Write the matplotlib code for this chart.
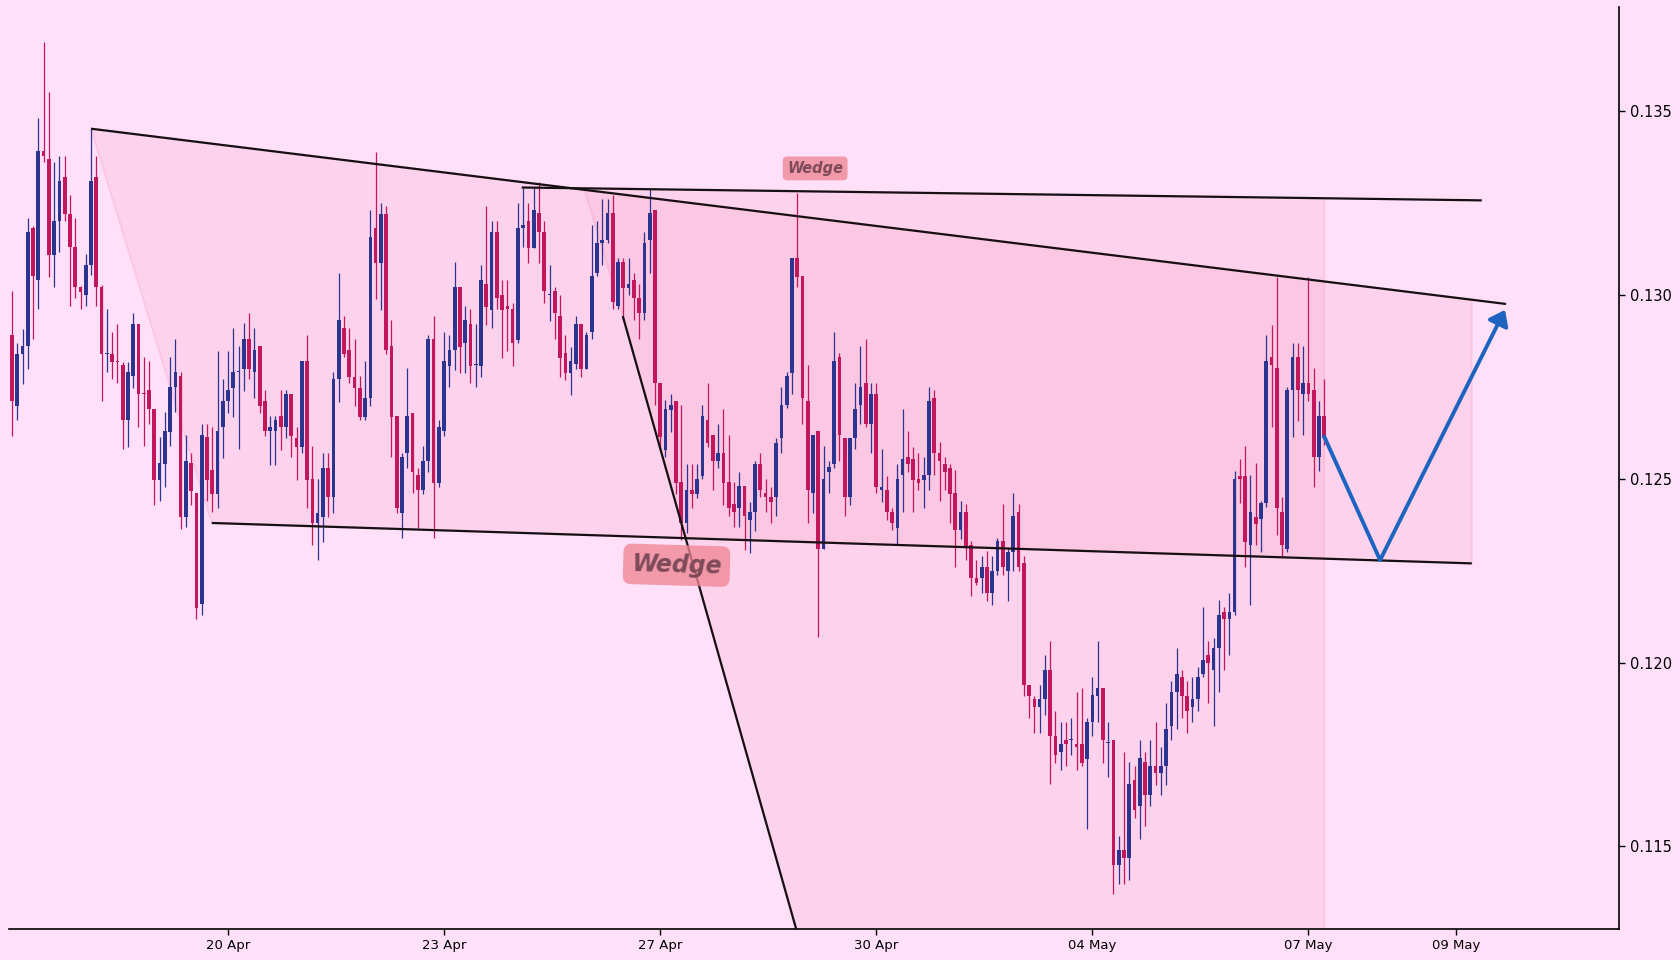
import matplotlib.pyplot as plt
import numpy as np

# OHLC, one candle per slot (x axis is the candle index)
opens = [
    0.12892, 0.12699, 0.12839, 0.12862, 0.13182, 0.13040, 0.13391, 0.13370, 0.13110, 0.13201,
    0.13321, 0.13220, 0.13130, 0.13022, 0.13000, 0.13081, 0.13321, 0.13022, 0.12839, 0.12839,
    0.12821, 0.12811, 0.12659, 0.12779, 0.12922, 0.12732, 0.12743, 0.12689, 0.12498, 0.12540,
    0.12628, 0.12750, 0.12779, 0.12397, 0.12542, 0.12462, 0.12160, 0.12613, 0.12524, 0.12459,
    0.12641, 0.12712, 0.12748, 0.12790, 0.12799, 0.12880, 0.12790, 0.12862, 0.12712, 0.12629,
    0.12629, 0.12671, 0.12640, 0.12731, 0.12610, 0.12588, 0.12822, 0.12499, 0.12379, 0.12397,
    0.12529, 0.12450, 0.12771, 0.12910, 0.12851, 0.12778, 0.12748, 0.12669, 0.12719, 0.13182,
    0.13088, 0.13221, 0.12862, 0.12671, 0.12408, 0.12570, 0.12680, 0.12511, 0.12470, 0.12550,
    0.12880, 0.12490, 0.12629, 0.12808, 0.12851, 0.13023, 0.12869, 0.12922, 0.12810, 0.12808,
    0.13030, 0.12960, 0.13173, 0.13000, 0.12971, 0.12962, 0.12878, 0.13182, 0.13202, 0.13129,
    0.13223, 0.13173, 0.13000, 0.13011, 0.12942, 0.12842, 0.12789, 0.12812, 0.12922, 0.12798,
    0.12899, 0.13059, 0.13141, 0.13150, 0.13223, 0.12971, 0.13091, 0.13020, 0.13041, 0.12991,
    0.12951, 0.13150, 0.13232, 0.12760, 0.12579, 0.12688, 0.12713, 0.12491, 0.12379, 0.12470,
    0.12459, 0.12509, 0.12660, 0.12619, 0.12550, 0.12570, 0.12491, 0.12432, 0.12420, 0.12481,
    0.12388, 0.12409, 0.12541, 0.12461, 0.12450, 0.12450, 0.12610, 0.12701, 0.12789, 0.13100,
    0.13052, 0.12713, 0.12461, 0.12630, 0.12308, 0.12520, 0.12541, 0.12833, 0.12610, 0.12450,
    0.12610, 0.12701, 0.12762, 0.12649, 0.12731, 0.12470, 0.12470, 0.12409, 0.12367, 0.12510,
    0.12560, 0.12553, 0.12500, 0.12498, 0.12510, 0.12721, 0.12570, 0.12541, 0.12530, 0.12462,
    0.12360, 0.12410, 0.12319, 0.12231, 0.12229, 0.12259, 0.12189, 0.12249, 0.12331, 0.12249,
    0.12301, 0.12410, 0.12271, 0.11939, 0.11901, 0.11879, 0.11901, 0.11981, 0.11800, 0.11758,
    0.11790, 0.11788, 0.11778, 0.11778, 0.11738, 0.11838, 0.11909, 0.11931, 0.11780, 0.11789,
    0.11448, 0.11491, 0.11467, 0.11681, 0.11609, 0.11730, 0.11640, 0.11719, 0.11700, 0.11719,
    0.11828, 0.11919, 0.11961, 0.11909, 0.11879, 0.11901, 0.11969, 0.12020, 0.11980, 0.12040,
    0.12139, 0.12119, 0.12139, 0.12508, 0.12508, 0.12320, 0.12395, 0.12392, 0.12433, 0.12832,
    0.12801, 0.12410, 0.12309, 0.12742, 0.12832, 0.12730, 0.12760, 0.12742, 0.12559, 0.12672,
]
highs = [
    0.13010, 0.12870, 0.12909, 0.13211, 0.13188, 0.13482, 0.13690, 0.13552, 0.13362, 0.13380,
    0.13380, 0.13272, 0.13211, 0.13024, 0.13112, 0.13453, 0.13380, 0.13029, 0.12961, 0.12899,
    0.12922, 0.12819, 0.12818, 0.12951, 0.12922, 0.12831, 0.12821, 0.12689, 0.12613, 0.12682,
    0.12831, 0.12880, 0.12790, 0.12620, 0.12571, 0.12462, 0.12649, 0.12649, 0.12641, 0.12849,
    0.12772, 0.12849, 0.12910, 0.12862, 0.12923, 0.12951, 0.12910, 0.12862, 0.12742, 0.12671,
    0.12671, 0.12742, 0.12742, 0.12731, 0.12640, 0.12822, 0.12892, 0.12590, 0.12499, 0.12570,
    0.12570, 0.12790, 0.13059, 0.12942, 0.12910, 0.12880, 0.12780, 0.12822, 0.13232, 0.13390,
    0.13252, 0.13243, 0.12932, 0.12671, 0.12570, 0.12801, 0.12680, 0.12529, 0.12590, 0.12892,
    0.12942, 0.12660, 0.12901, 0.12892, 0.13091, 0.13023, 0.12971, 0.12962, 0.12922, 0.13082,
    0.13243, 0.13202, 0.13202, 0.13041, 0.13041, 0.12980, 0.13250, 0.13291, 0.13250, 0.13291,
    0.13309, 0.13202, 0.13082, 0.13023, 0.13000, 0.12892, 0.12860, 0.12942, 0.12922, 0.12901,
    0.13191, 0.13202, 0.13261, 0.13261, 0.13273, 0.13100, 0.13100, 0.13100, 0.13059, 0.13030,
    0.13173, 0.13291, 0.13232, 0.12760, 0.12715, 0.12731, 0.12713, 0.12701, 0.12541, 0.12541,
    0.12541, 0.12701, 0.12762, 0.12619, 0.12649, 0.12690, 0.12619, 0.12491, 0.12520, 0.12481,
    0.12438, 0.12550, 0.12570, 0.12500, 0.12479, 0.12610, 0.12751, 0.12792, 0.13100, 0.13277,
    0.13052, 0.12810, 0.12619, 0.12630, 0.12590, 0.12550, 0.12901, 0.12842, 0.12610, 0.12610,
    0.12762, 0.12862, 0.12881, 0.12762, 0.12762, 0.12581, 0.12509, 0.12420, 0.12541, 0.12691,
    0.12631, 0.12588, 0.12570, 0.12560, 0.12751, 0.12741, 0.12601, 0.12560, 0.12541, 0.12523,
    0.12440, 0.12432, 0.12331, 0.12279, 0.12291, 0.12303, 0.12291, 0.12340, 0.12432, 0.12311,
    0.12462, 0.12432, 0.12291, 0.11939, 0.11909, 0.11939, 0.12022, 0.12060, 0.11869, 0.11838,
    0.11838, 0.11850, 0.11921, 0.11931, 0.11850, 0.11961, 0.12060, 0.11931, 0.11839, 0.11789,
    0.11527, 0.11758, 0.11730, 0.11719, 0.11789, 0.11758, 0.11789, 0.11839, 0.11769, 0.11890,
    0.11950, 0.12040, 0.11980, 0.11950, 0.11961, 0.11989, 0.12151, 0.12059, 0.12068, 0.12170,
    0.12151, 0.12189, 0.12522, 0.12553, 0.12589, 0.12510, 0.12542, 0.12441, 0.12892, 0.12920,
    0.13050, 0.12452, 0.12751, 0.12869, 0.12869, 0.12861, 0.13050, 0.12801, 0.12713, 0.12773,
]
lows = [
    0.12618, 0.12659, 0.12758, 0.12800, 0.12880, 0.12961, 0.13362, 0.13050, 0.13022, 0.13118,
    0.13201, 0.12970, 0.12993, 0.12961, 0.12970, 0.13055, 0.12970, 0.12712, 0.12790, 0.12771,
    0.12762, 0.12580, 0.12587, 0.12748, 0.12641, 0.12589, 0.12649, 0.12430, 0.12441, 0.12479,
    0.12589, 0.12682, 0.12363, 0.12368, 0.12430, 0.12118, 0.12129, 0.12441, 0.12410, 0.12420,
    0.12557, 0.12680, 0.12669, 0.12580, 0.12740, 0.12771, 0.12719, 0.12680, 0.12618, 0.12538,
    0.12538, 0.12579, 0.12610, 0.12559, 0.12497, 0.12570, 0.12420, 0.12320, 0.12278, 0.12329,
    0.12397, 0.12408, 0.12710, 0.12831, 0.12760, 0.12699, 0.12659, 0.12659, 0.12699, 0.12990,
    0.12960, 0.12839, 0.12559, 0.12408, 0.12338, 0.12529, 0.12461, 0.12366, 0.12459, 0.12520,
    0.12338, 0.12479, 0.12618, 0.12751, 0.12796, 0.12789, 0.12789, 0.12760, 0.12749, 0.12778,
    0.12919, 0.12910, 0.12962, 0.12830, 0.12848, 0.12808, 0.12869, 0.13132, 0.13088, 0.13129,
    0.13088, 0.12980, 0.12931, 0.12880, 0.12778, 0.12769, 0.12728, 0.12798, 0.12778, 0.12798,
    0.12880, 0.13052, 0.13082, 0.13141, 0.12962, 0.12962, 0.12933, 0.13000, 0.12933, 0.12880,
    0.12933, 0.13059, 0.12701, 0.12579, 0.12559, 0.12628, 0.12459, 0.12334, 0.12352, 0.12420,
    0.12447, 0.12500, 0.12588, 0.12470, 0.12529, 0.12429, 0.12399, 0.12368, 0.12368, 0.12306,
    0.12299, 0.12359, 0.12450, 0.12409, 0.12379, 0.12399, 0.12570, 0.12692, 0.12731, 0.13021,
    0.12648, 0.12379, 0.12408, 0.12071, 0.12308, 0.12461, 0.12529, 0.12550, 0.12399, 0.12429,
    0.12581, 0.12649, 0.12640, 0.12570, 0.12461, 0.12438, 0.12388, 0.12360, 0.12323, 0.12409,
    0.12520, 0.12409, 0.12469, 0.12420, 0.12469, 0.12510, 0.12439, 0.12469, 0.12380, 0.12259,
    0.12337, 0.12279, 0.12181, 0.12211, 0.12189, 0.12168, 0.12158, 0.12239, 0.12239, 0.12168,
    0.12249, 0.12249, 0.11909, 0.11848, 0.11808, 0.11808, 0.11858, 0.11669, 0.11728, 0.11709,
    0.11718, 0.11748, 0.11709, 0.11718, 0.11548, 0.11800, 0.11838, 0.11728, 0.11690, 0.11369,
    0.11397, 0.11397, 0.11408, 0.11578, 0.11519, 0.11555, 0.11609, 0.11668, 0.11640, 0.11668,
    0.11789, 0.11818, 0.11848, 0.11809, 0.11837, 0.11869, 0.11961, 0.11890, 0.11828, 0.11919,
    0.11980, 0.12020, 0.12130, 0.12433, 0.12260, 0.12158, 0.12320, 0.12300, 0.12424, 0.12640,
    0.12347, 0.12288, 0.12300, 0.12613, 0.12658, 0.12619, 0.12711, 0.12478, 0.12522, 0.12593,
]
closes = [
    0.12712, 0.12840, 0.12862, 0.13172, 0.13052, 0.13391, 0.13380, 0.13110, 0.13201, 0.13310,
    0.13222, 0.13130, 0.13022, 0.13008, 0.13081, 0.13310, 0.13022, 0.12839, 0.12842, 0.12819,
    0.12819, 0.12659, 0.12790, 0.12922, 0.12730, 0.12730, 0.12689, 0.12498, 0.12542, 0.12630,
    0.12750, 0.12790, 0.12397, 0.12550, 0.12467, 0.12149, 0.12620, 0.12498, 0.12459, 0.12630,
    0.12712, 0.12743, 0.12790, 0.12792, 0.12880, 0.12799, 0.12851, 0.12699, 0.12629, 0.12640,
    0.12660, 0.12640, 0.12731, 0.12618, 0.12588, 0.12822, 0.12497, 0.12379, 0.12408, 0.12529,
    0.12450, 0.12771, 0.12932, 0.12839, 0.12778, 0.12748, 0.12669, 0.12719, 0.13159, 0.13088,
    0.13221, 0.12851, 0.12669, 0.12420, 0.12559, 0.12671, 0.12520, 0.12470, 0.12550, 0.12880,
    0.12490, 0.12640, 0.12822, 0.12851, 0.13023, 0.12860, 0.12933, 0.12808, 0.12812, 0.13041,
    0.12969, 0.13173, 0.12991, 0.12960, 0.12962, 0.12869, 0.13182, 0.13191, 0.13129, 0.13232,
    0.13171, 0.13010, 0.13001, 0.12951, 0.12830, 0.12789, 0.12821, 0.12922, 0.12798, 0.12892,
    0.13052, 0.13141, 0.13150, 0.13223, 0.12981, 0.13091, 0.13020, 0.13030, 0.12991, 0.12951,
    0.13141, 0.13223, 0.12760, 0.12615, 0.12689, 0.12701, 0.12488, 0.12379, 0.12470, 0.12459,
    0.12500, 0.12671, 0.12599, 0.12550, 0.12570, 0.12488, 0.12420, 0.12409, 0.12481, 0.12399,
    0.12409, 0.12541, 0.12470, 0.12450, 0.12438, 0.12599, 0.12701, 0.12780, 0.13100, 0.13050,
    0.12719, 0.12470, 0.12619, 0.12308, 0.12500, 0.12531, 0.12821, 0.12619, 0.12450, 0.12610,
    0.12690, 0.12751, 0.12649, 0.12731, 0.12479, 0.12479, 0.12409, 0.12380, 0.12500, 0.12553,
    0.12540, 0.12498, 0.12490, 0.12510, 0.12712, 0.12570, 0.12550, 0.12520, 0.12460, 0.12360,
    0.12410, 0.12316, 0.12229, 0.12216, 0.12259, 0.12189, 0.12249, 0.12331, 0.12259, 0.12301,
    0.12400, 0.12259, 0.11939, 0.11909, 0.11879, 0.11901, 0.11981, 0.11800, 0.11748, 0.11778,
    0.11778, 0.11790, 0.11770, 0.11728, 0.11838, 0.11911, 0.11931, 0.11788, 0.11782, 0.11448,
    0.11491, 0.11467, 0.11670, 0.11598, 0.11741, 0.11640, 0.11719, 0.11700, 0.11719, 0.11820,
    0.11919, 0.11969, 0.11909, 0.11869, 0.11901, 0.11961, 0.12008, 0.11999, 0.12040, 0.12130,
    0.12119, 0.12139, 0.12499, 0.12500, 0.12328, 0.12410, 0.12378, 0.12433, 0.12821, 0.12809,
    0.12421, 0.12320, 0.12742, 0.12832, 0.12742, 0.12760, 0.12730, 0.12559, 0.12672, 0.12610,
]

# x ticks are candle slots
tick_slots = [41, 82, 123, 164, 205, 246, 274]
tick_labels = ['20 Apr', '23 Apr', '27 Apr', '30 Apr', '04 May', '07 May', '09 May']
price_ticks = [0.115, 0.120, 0.125, 0.130, 0.135]

# drawn pattern anchors: (slot, price)
upper_line = [(15.0, 0.13453), (283.5, 0.12976)]
lower_line = [(37.9, 0.12380), (277.0, 0.12270)]
wedge_zone = [(15.0, 0.13453), (277.0, 0.12988), (277.0, 0.12270), (37.9, 0.12380)]
top_line = [(96.7, 0.13293), (278.9, 0.13258)]
steep_line = [(115.9, 0.12943), (150.0, 0.11214)]
wedge_zone2 = [(108.5, 0.13291), (249.0, 0.13264), (249.0, 0.10500),
               (164.1, 0.10500), (115.9, 0.12943)]
path_pts = [(249.0, 0.12615), (259.6, 0.12279), (283.3, 0.12960)]

BG = '#FFE0F8'
UP = '#2B3590'
DOWN = '#C2185B'
ZONE = (0.957, 0.561, 0.694, 0.16)
ZONE_EDGE = (0.957, 0.561, 0.694, 0.22)

fig = plt.figure(figsize=(16.8, 9.6), dpi=100)
fig.patch.set_facecolor(BG)
ax = fig.add_axes([0.0051, 0.0323, 0.9588, 0.9607])
ax.set_facecolor(BG)

# zones
for zone in (wedge_zone, wedge_zone2):
    zx, zy = zip(*zone)
    ax.fill(zx, zy, facecolor=ZONE, edgecolor=ZONE_EDGE, lw=1.5, zorder=1)

# candles
x = np.arange(len(opens))
o = np.array(opens)
c = np.array(closes)
cols = np.where(c >= o, UP, DOWN)
ax.vlines(x, lows, highs, colors=cols, lw=0.9, zorder=3)
body_lo = np.minimum(o, c)
body_h = np.maximum(np.abs(c - o), 0.00003)
ax.bar(x, body_h, bottom=body_lo, width=0.7, color=cols, linewidth=0, zorder=4)

# pattern lines
for line in (upper_line, lower_line, top_line, steep_line):
    lx, ly = zip(*line)
    ax.plot(lx, ly, color='#161014', lw=1.6, zorder=5, solid_capstyle='butt')

# projected path
ax.plot([path_pts[0][0], path_pts[1][0]], [path_pts[0][1], path_pts[1][1]],
        color='#1C64C0', lw=2.8, zorder=6, solid_capstyle='round')
ax.annotate('', xy=path_pts[2], xytext=path_pts[1],
            arrowprops=dict(arrowstyle='-|>,head_length=0.4,head_width=0.3',
                            color='#1C64C0', lw=2.8,
                            mutation_scale=22, shrinkA=0, shrinkB=0),
            zorder=6)

# labels
ax.text(126.1, 0.12265, 'Wedge', fontsize=17, fontweight='bold', fontstyle='italic',
        color='#7E4B5A', ha='center', va='center', rotation=-1.7, zorder=7,
        bbox=dict(boxstyle='round,pad=0.35', fc='#EF8595', ec='none', alpha=0.78))
ax.text(152.4, 0.13345, 'Wedge', fontsize=10.5, fontweight='bold', fontstyle='italic',
        color='#7E4B5A', ha='center', va='center', zorder=7,
        bbox=dict(boxstyle='round,pad=0.3', fc='#EF8595', ec='none', alpha=0.78))

ax.set_xlim(-0.65, 305.0)
ax.set_ylim(0.11275, 0.13785)
ax.set_xticks(tick_slots)
ax.set_xticklabels(tick_labels)
ax.yaxis.tick_right()
ax.set_yticks(price_ticks)
ax.set_yticklabels([f'{v:.3f}' for v in price_ticks])
ax.tick_params(axis='y', labelsize=10.5, length=4, width=1)
ax.tick_params(axis='x', labelsize=9.5, length=4, width=1)
ax.spines['left'].set_visible(False)
ax.spines['top'].set_visible(False)
ax.spines['right'].set_linewidth(1.2)
ax.spines['bottom'].set_linewidth(1.2)

fig.savefig('out.png', dpi=100, facecolor=BG)
